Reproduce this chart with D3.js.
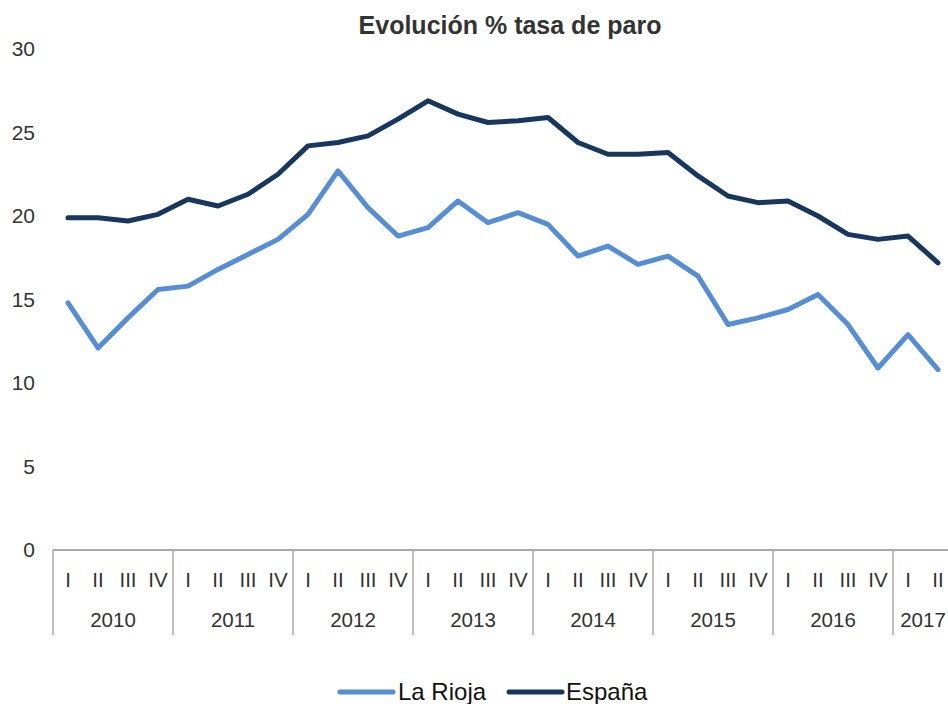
<!DOCTYPE html>
<html lang="es">
<head>
  <meta charset="UTF-8" />
  <title>Evolución % tasa de paro</title>
  <script src="https://d3js.org/d3.v7.min.js"></script>
  <style>
    body {
      margin: 0;
      background: #fff;
      font-family: 'Liberation Sans', Arial, sans-serif;
    }
    svg { display: block; }
    .title { font-size: 25px; font-weight: bold; fill: #333; }
    .ylab text { font-size: 21px; fill: #333; }
    .qlab, .ylabel { font-size: 20.5px; fill: #333; }
    .legend text { font-size: 24px; fill: #111; }
  </style>
</head>
<body>
  <svg></svg>
  <script>
    const years = ["2010", "2011", "2012", "2013", "2014", "2015", "2016", "2017"];
    const quarterNames = ["I", "II", "III", "IV"];
    const quartersPerYear = [4, 4, 4, 4, 4, 4, 4, 2];

    const laRioja = [14.8, 12.1, 13.9, 15.6, 15.8, 16.8, 17.7, 18.6, 20.1, 22.7, 20.5, 18.8, 19.3, 20.9,
                     19.6, 20.2, 19.5, 17.6, 18.2, 17.1, 17.6, 16.4, 13.5, 13.9, 14.4, 15.3, 13.5, 10.9, 12.9, 10.8];
    const espana = [19.9, 19.9, 19.7, 20.1, 21.0, 20.6, 21.3, 22.5, 24.2, 24.4, 24.8, 25.8, 26.9, 26.1,
                    25.6, 25.7, 25.9, 24.4, 23.7, 23.7, 23.8, 22.4, 21.2, 20.8, 20.9, 20.0, 18.9, 18.6, 18.8, 17.2];

    const series = [
      { name: "La Rioja", values: laRioja, color: "#558ed5" },
      { name: "España", values: espana, color: "#17375e" }
    ];

    // one entry per quarter
    const periods = [];
    years.forEach((y, i) => {
      for (let q = 0; q < quartersPerYear[i]; q++) periods.push({ year: y, q: quarterNames[q] });
    });

    const width = 948, height = 704;
    const svg = d3.select("svg").attr("width", width).attr("height", height);

    const x = d3.scaleBand().domain(d3.range(periods.length)).range([53, 953]);
    const y = d3.scaleLinear().domain([0, 30]).range([550, 49]);

    svg.append("text")
      .attr("class", "title")
      .attr("x", 510)
      .attr("y", 34)
      .attr("text-anchor", "middle")
      .text("Evolución % tasa de paro");

    // y labels only, no axis line
    const yAxis = svg.append("g")
      .attr("class", "ylab")
      .attr("transform", "translate(35,0)")
      .call(d3.axisLeft(y).tickValues(d3.range(0, 31, 5)).tickSize(0).tickPadding(0));
    yAxis.select(".domain").remove();
    yAxis.selectAll("text").attr("font-family", null).attr("font-size", null).attr("fill", null);

    // category axis
    const axisG = svg.append("g");
    axisG.append("line")
      .attr("x1", x.range()[0]).attr("x2", x.range()[1])
      .attr("y1", y(0)).attr("y2", y(0))
      .attr("stroke", "#aaa").attr("stroke-width", 2);

    let start = 0;
    const bounds = [0];
    quartersPerYear.forEach(n => { start += n; bounds.push(start); });

    bounds.forEach(b => {
      const bx = b < periods.length ? x(b) : x.range()[1];
      axisG.append("line")
        .attr("x1", bx).attr("x2", bx)
        .attr("y1", y(0)).attr("y2", 635)
        .attr("stroke", "#aaa").attr("stroke-width", 1.5);
    });

    axisG.selectAll(".qlab")
      .data(periods)
      .join("text")
      .attr("class", "qlab")
      .attr("x", (d, i) => x(i) + x.bandwidth() / 2)
      .attr("y", 580)
      .attr("dy", "0.35em")
      .attr("text-anchor", "middle")
      .text(d => d.q);

    axisG.selectAll(".ylabel")
      .data(years)
      .join("text")
      .attr("class", "ylabel")
      .attr("x", (d, i) => {
        const x0 = x(bounds[i]);
        const x1 = bounds[i + 1] < periods.length ? x(bounds[i + 1]) : x.range()[1];
        return (x0 + x1) / 2;
      })
      .attr("y", 620)
      .attr("dy", "0.35em")
      .attr("text-anchor", "middle")
      .text(d => d);

    const line = d3.line()
      .x((d, i) => x(i) + x.bandwidth() / 2)
      .y(d => y(d));

    svg.append("g")
      .selectAll("path")
      .data(series)
      .join("path")
      .attr("fill", "none")
      .attr("stroke", d => d.color)
      .attr("stroke-width", 5)
      .attr("stroke-linejoin", "round")
      .attr("stroke-linecap", "round")
      .attr("d", d => line(d.values));

    // legend
    const legendPos = [{ lx: 340, tx: 398 }, { lx: 509, tx: 566 }];
    const legend = svg.append("g").attr("class", "legend");
    series.forEach((s, i) => {
      const p = legendPos[i];
      legend.append("line")
        .attr("x1", p.lx).attr("x2", p.lx + 53)
        .attr("y1", 692).attr("y2", 692)
        .attr("stroke", s.color).attr("stroke-width", 5)
        .attr("stroke-linecap", "round");
      legend.append("text")
        .attr("x", p.tx)
        .attr("y", 692)
        .attr("dy", "0.35em")
        .text(s.name);
    });
  </script>
</body>
</html>
